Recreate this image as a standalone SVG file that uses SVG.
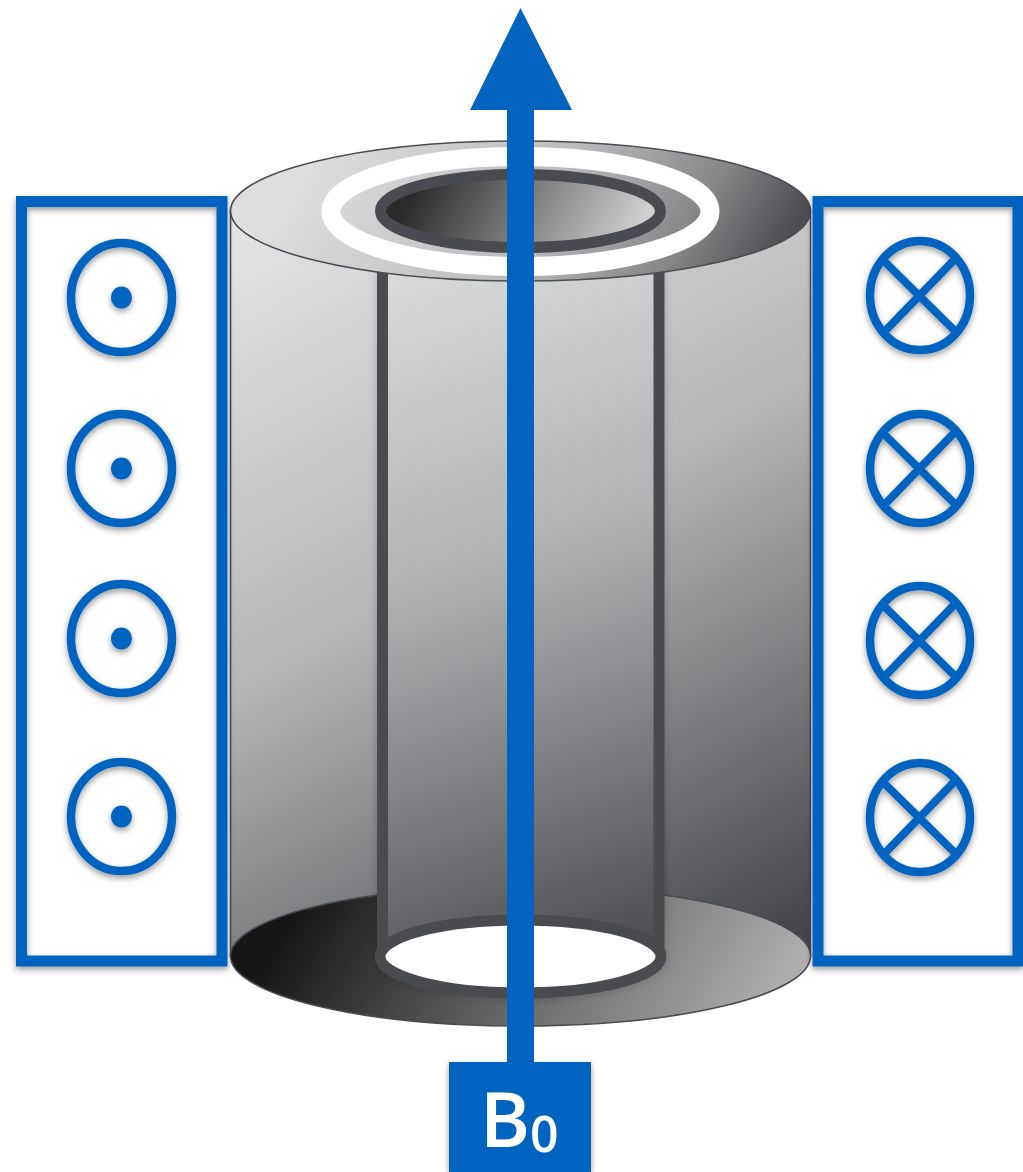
<svg xmlns="http://www.w3.org/2000/svg" width="1023" height="1172" viewBox="0 0 1023 1172">
<style>
.blue{fill:none;stroke:#0364c0}
.frame{stroke-width:11;filter:url(#sh)}
.coil{stroke-width:8.500}
.cross{stroke-width:8}
.dot{fill:#0364c0}
.edge{stroke:#4b4c50;stroke-width:1.600}
.wall{fill:none;stroke:#4a4b50;stroke-width:11}
.label{font-family:"Open Sans","Liberation Sans",sans-serif;fill:#fff;font-weight:600}
</style>
<defs>
<filter id="sh" x="-20%" y="-20%" width="140%" height="140%"><feDropShadow dx="0" dy="3" stdDeviation="3" flood-color="#000" flood-opacity=".4"/></filter>
<filter id="soft" x="-10%" y="-5%" width="120%" height="110%"><feDropShadow dx="0" dy="0" stdDeviation="4" flood-color="#000" flood-opacity=".2"/></filter>
<linearGradient id="side" gradientUnits="userSpaceOnUse" x1="310" y1="180" x2="750" y2="1000"><stop offset="0" stop-color="#e4e5e6"/><stop offset=".45" stop-color="#b4b5b7"/><stop offset="1" stop-color="#3c3d40"/></linearGradient>
<linearGradient id="inner" gradientUnits="userSpaceOnUse" x1="400" y1="230" x2="650" y2="960"><stop offset="0" stop-color="#dedfe0"/><stop offset=".45" stop-color="#b0b1b3"/><stop offset="1" stop-color="#48494d"/></linearGradient>
<linearGradient id="top" gradientUnits="userSpaceOnUse" x1="350" y1="90" x2="740" y2="320"><stop offset="0" stop-color="#dedede"/><stop offset=".5" stop-color="#bbbbbd"/><stop offset=".8" stop-color="#858688"/><stop offset="1" stop-color="#4c4d50"/></linearGradient>
<linearGradient id="bottom" gradientUnits="userSpaceOnUse" x1="330" y1="850" x2="730" y2="1080"><stop offset="0" stop-color="#161616"/><stop offset=".5" stop-color="#666"/><stop offset="1" stop-color="#aeaeae"/></linearGradient>
<linearGradient id="bore" gradientUnits="userSpaceOnUse" x1="430" y1="160" x2="620" y2="262"><stop offset="0" stop-color="#2b2b2b"/><stop offset="1" stop-color="#cfcfcf"/></linearGradient>
</defs>
<rect width="1023" height="1172" fill="#fff"/>
<g id="cylinder">
<rect x="230.500" y="211" width="580" height="745" fill="url(#side)" class="edge"/>
<ellipse cx="520.500" cy="956" rx="290" ry="70" fill="url(#bottom)" class="edge"/>
<g filter="url(#soft)">
<rect x="382.500" y="211" width="276.500" height="745" fill="url(#inner)"/>
<path d="M382.500 211V956M659 211V956" class="wall"/>
<ellipse cx="520.500" cy="956.500" rx="140.500" ry="36.500" class="wall" style="fill:#fff"/>
</g>
<ellipse cx="520.500" cy="211" rx="290" ry="70" fill="url(#top)" class="edge"/>
<ellipse cx="520.500" cy="211.500" rx="189.500" ry="55" fill="none" stroke="#fff" stroke-width="19"/>
<ellipse cx="520.500" cy="211" rx="140" ry="36.500" class="wall" style="fill:url(#bore)"/>
</g>
<g id="coil-left">
<rect x="21.500" y="201.500" width="200.500" height="759.500" class="blue frame"/>
<g filter="url(#sh)">
<ellipse cx="121.500" cy="297.500" rx="50.500" ry="54.500" class="blue coil"/><ellipse cx="121.500" cy="297.500" rx="10.500" ry="11" class="dot"/>
<ellipse cx="121.500" cy="468.500" rx="50.500" ry="54.500" class="blue coil"/><ellipse cx="121.500" cy="468.500" rx="10.500" ry="11" class="dot"/>
<ellipse cx="121.500" cy="638.500" rx="50.500" ry="54.500" class="blue coil"/><ellipse cx="121.500" cy="638.500" rx="10.500" ry="11" class="dot"/>
<ellipse cx="121.500" cy="816.500" rx="50.500" ry="54.500" class="blue coil"/><ellipse cx="121.500" cy="816.500" rx="10.500" ry="11" class="dot"/>
</g>
</g>
<g id="coil-right">
<rect x="818" y="201.500" width="200" height="759.500" class="blue frame"/>
<g filter="url(#sh)">
<g id="cross-1"><ellipse cx="920" cy="295.500" rx="50" ry="54.500" class="blue coil"/><path d="M883 260L955 331M955 259L886 330" class="blue cross"/></g>
<g id="cross-2"><ellipse cx="920" cy="468.500" rx="50" ry="54.500" class="blue coil"/><path d="M883 433L955 504M955 432L886 503" class="blue cross"/></g>
<g id="cross-3"><ellipse cx="920" cy="640.500" rx="50" ry="54.500" class="blue coil"/><path d="M883 605L955 676M955 604L886 675" class="blue cross"/></g>
<g id="cross-4"><ellipse cx="920" cy="817.500" rx="50" ry="54.500" class="blue coil"/><path d="M883 782L955 853M955 781L886 852" class="blue cross"/></g>
</g>
</g>
<g id="connectors">
<rect x="507" y="108" width="27" height="956" fill="#0364c0"/>
<polygon points="520.500,8 470,110 572,110" fill="#0364c0"/>
</g>
<g id="b0-label">
<rect x="449" y="1062" width="142" height="110" fill="#0364c0" filter="url(#sh)"/>
<text x="480" y="1147" class="label" font-size="76">B<tspan font-size="50" dy="5">0</tspan></text>
</g>
</svg>
